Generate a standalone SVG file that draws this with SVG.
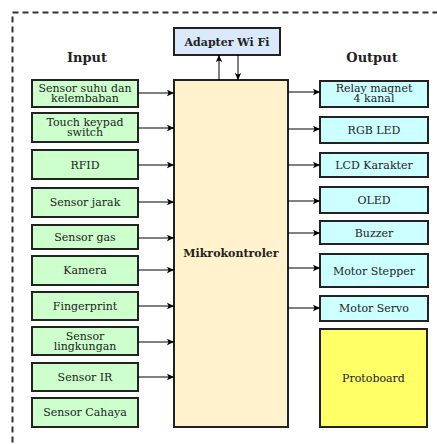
<svg xmlns="http://www.w3.org/2000/svg" width="437" height="444" viewBox="0 0 437 444">
<defs>
<marker id="ah" markerWidth="8" markerHeight="8" refX="7" refY="4" orient="auto" markerUnits="userSpaceOnUse">
<path d="M0,0.8 L7,4 L0,7.2 L1.5,4 Z" fill="#000"/>
</marker>
<style>
text{font-family:"DejaVu Serif",serif;fill:#222;text-anchor:middle}
.t{font-size:11px}
.b{font-weight:bold}
.h{font-size:13px;font-weight:bold}
.in{fill:#ccffcc;stroke:#222;stroke-width:2}
.out{fill:#ccffff;stroke:#222;stroke-width:2}
.c{fill:none;stroke:#000;stroke-width:1;marker-end:url(#ah)}
</style>
</defs>
<rect width="437" height="444" fill="#fff"/>
<rect x="12.5" y="12.5" width="440" height="450" fill="none" stroke="#333" stroke-width="2" stroke-dasharray="6,4"/>
<text class="h" x="87" y="62">Input</text>
<text class="h" x="372" y="62">Output</text>
<g id="wifi"><rect x="174" y="28" width="106" height="27" fill="#dae8fc" stroke="#222" stroke-width="2"/><text class="t b" x="227" y="45.5">Adapter Wi Fi</text></g>
<g id="mcu"><rect x="174" y="80" width="114" height="347" fill="#fff2cc" stroke="#222" stroke-width="2"/><text class="t b" x="231" y="257">Mikrokontroler</text></g>
<g id="in1"><rect class="in" x="32" y="80" width="106" height="27"/><text class="t" x="85" y="92">Sensor suhu dan</text><text class="t" x="85" y="102">kelembaban</text></g>
<g id="in2"><rect class="in" x="32" y="113" width="106" height="29"/><text class="t" x="85" y="126">Touch keypad</text><text class="t" x="85" y="136">switch</text></g>
<g id="in3"><rect class="in" x="32" y="150" width="106" height="29"/><text class="t" x="85" y="168.5">RFID</text></g>
<g id="in4"><rect class="in" x="32" y="188" width="106" height="29"/><text class="t" x="85" y="206">Sensor jarak</text></g>
<g id="in5"><rect class="in" x="32" y="225" width="106" height="24"/><text class="t" x="85" y="241">Sensor gas</text></g>
<g id="in6"><rect class="in" x="32" y="256" width="106" height="29"/><text class="t" x="85" y="274">Kamera</text></g>
<g id="in7"><rect class="in" x="32" y="292" width="106" height="28"/><text class="t" x="85" y="309.5">Fingerprint</text></g>
<g id="in8"><rect class="in" x="32" y="327" width="106" height="28"/><text class="t" x="85" y="340">Sensor</text><text class="t" x="85" y="350">lingkungan</text></g>
<g id="in9"><rect class="in" x="32" y="363" width="106" height="28"/><text class="t" x="85" y="381">Sensor IR</text></g>
<g id="in10"><rect class="in" x="32" y="398" width="106" height="29"/><text class="t" x="85" y="416">Sensor Cahaya</text></g>
<g id="out1"><rect class="out" x="320" y="81" width="108" height="26"/><text class="t" x="374" y="92">Relay magnet</text><text class="t" x="374" y="102">4 kanal</text></g>
<g id="out2"><rect class="out" x="320" y="117" width="108" height="26"/><text class="t" x="374" y="134">RGB LED</text></g>
<g id="out3"><rect class="out" x="320" y="153" width="108" height="24"/><text class="t" x="374" y="169">LCD Karakter</text></g>
<g id="out4"><rect class="out" x="320" y="187" width="108" height="26"/><text class="t" x="374" y="204">OLED</text></g>
<g id="out5"><rect class="out" x="320" y="221" width="108" height="23"/><text class="t" x="374" y="236.5">Buzzer</text></g>
<g id="out6"><rect class="out" x="320" y="254" width="108" height="33"/><text class="t" x="374" y="274.5">Motor Stepper</text></g>
<g id="out7"><rect class="out" x="320" y="296" width="108" height="25"/><text class="t" x="374" y="312">Motor Servo</text></g>
<g id="proto"><rect x="320" y="329" width="107" height="98" fill="#ffff66" stroke="#222" stroke-width="2"/><text class="t" x="373.5" y="382">Protoboard</text></g>
<g id="connectors">
<path class="c" d="M219,80 V55"/>
<path class="c" d="M238,55 V80"/>
<path class="c" d="M138,93 H174"/>
<path class="c" d="M138,128 H174"/>
<path class="c" d="M138,165 H174"/>
<path class="c" d="M138,202 H174"/>
<path class="c" d="M138,238 H174"/>
<path class="c" d="M138,270 H174"/>
<path class="c" d="M138,306 H174"/>
<path class="c" d="M138,342 H174"/>
<path class="c" d="M138,377 H174"/>
<path class="c" d="M288,92 H320"/>
<path class="c" d="M288,129 H320"/>
<path class="c" d="M288,165 H320"/>
<path class="c" d="M288,201 H320"/>
<path class="c" d="M288,233 H320"/>
<path class="c" d="M288,268 H320"/>
<path class="c" d="M288,308 H320"/>
</g>
</svg>
